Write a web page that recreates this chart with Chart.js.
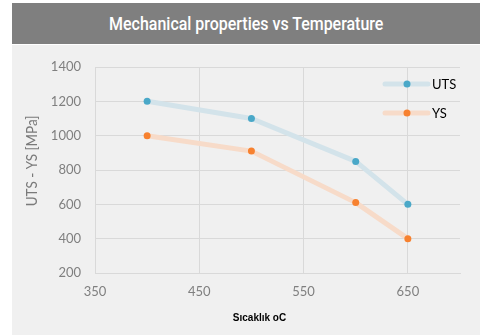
<!DOCTYPE html>
<html>
<head>
<meta charset="utf-8">
<script src="https://cdn.jsdelivr.net/npm/chart.js@4/dist/chart.umd.min.js"></script>
<style>
  html, body { margin: 0; padding: 0; background: #ffffff; }
  body { width: 480px; height: 335px; position: relative; overflow: hidden; }
  #titleBar {
    position: absolute; left: 12px; top: 3px; width: 468px; height: 41px;
    background: #7f7f7f; color: #ffffff;
    font-family: "Roboto", "Liberation Sans", sans-serif; font-weight: 500;
    font-size: 19px; line-height: 41px; text-align: center;
  }
  #titleBar span { display: inline-block; transform: scaleX(0.84); transform-origin: 50% 50%; }
  #wrap { position: absolute; left: 12px; top: 45px; width: 468px; height: 290px; background: #f0f0f0; }
  canvas { display: block; }
</style>
</head>
<body>
<div id="titleBar"><span>Mechanical properties vs Temperature</span></div>
<div id="wrap"><canvas id="c" width="468" height="290"></canvas></div>
<script>
// Temperature (°C) and strength values (MPa)
const temperatures = [400, 500, 600, 650];
const utsValues = [1200, 1100, 850, 600];
const ysValues = [1000, 910, 610, 400];
const xTickValues = [350, 450, 550, 650];
const seriesNames = ['UTS', 'YS'];

const GRID = '#d9d9d9';
const TICK = '#7f7f7f';

const toPoints = (xs, ys) => xs.map((x, i) => ({ x: x, y: ys[i] }));

const series = [
  { label: seriesNames[0], data: toPoints(temperatures, utsValues), line: '#d3e3ea', point: '#4aa8c8' },
  { label: seriesNames[1], data: toPoints(temperatures, ysValues), line: '#f7dbc9', point: '#f7812f' }
];

// Axis titles drawn on the canvas
const axisTitles = {
  id: 'axisTitles',
  afterDraw(chart) {
    const ctx = chart.ctx;
    ctx.save();
    ctx.fillStyle = '#7a7a7a';
    ctx.font = '16px Lato, sans-serif';
    ctx.textAlign = 'center';
    ctx.textBaseline = 'middle';
    ctx.translate(20, 116);
    ctx.rotate(-Math.PI / 2);
    ctx.scale(0.84, 1);
    ctx.fillText('UTS - YS [MPa]', 0, 0);
    ctx.restore();

    ctx.save();
    ctx.fillStyle = '#000000';
    ctx.font = 'bold 10px "Liberation Sans", Arial, sans-serif';
    ctx.textAlign = 'center';
    ctx.textBaseline = 'middle';
    ctx.fillText('Sıcaklık oC', 247.5, 273);
    ctx.restore();
  }
};

// Legend inside the plot, top-right
const insideLegend = {
  id: 'insideLegend',
  afterDatasetsDraw(chart) {
    const ctx = chart.ctx;
    const x0 = 373, x1 = 416, mx = 395, tx = 420;
    const rows = [39, 68];
    chart.data.datasets.forEach((ds, i) => {
      const y = rows[i];
      ctx.save();
      ctx.strokeStyle = ds.borderColor;
      ctx.lineWidth = 5;
      ctx.lineCap = 'round';
      ctx.beginPath();
      ctx.moveTo(x0, y);
      ctx.lineTo(x1, y);
      ctx.stroke();
      ctx.fillStyle = ds.pointBackgroundColor;
      ctx.beginPath();
      ctx.arc(mx, y, 3.5, 0, Math.PI * 2);
      ctx.fill();
      ctx.fillStyle = '#000000';
      ctx.font = '13px Lato, sans-serif';
      ctx.textAlign = 'left';
      ctx.textBaseline = 'middle';
      ctx.fillText(ds.label, tx, y + 1);
      ctx.restore();
    });
  }
};

new Chart(document.getElementById('c'), {
  type: 'scatter',
  data: {
    datasets: series.map(s => ({
      label: s.label,
      data: s.data,
      showLine: true,
      borderColor: s.line,
      borderWidth: 5,
      borderCapStyle: 'round',
      borderJoinStyle: 'round',
      pointBackgroundColor: s.point,
      pointBorderColor: s.point,
      pointBorderWidth: 0,
      pointRadius: 3.5,
      tension: 0
    }))
  },
  options: {
    responsive: false,
    animation: false,
    devicePixelRatio: 1,
    layout: { padding: { left: 0, top: 22, right: 20, bottom: 0 } },
    plugins: {
      legend: { display: false },
      title: { display: false },
      tooltip: { enabled: false }
    },
    scales: {
      x: {
        type: 'linear',
        min: 350,
        max: 700,
        afterBuildTicks(scale) { scale.ticks = xTickValues.map(v => ({ value: v })); },
        afterFit(scale) { scale.height = 62; },
        grid: { color: GRID, lineWidth: 1, drawTicks: false },
        border: { color: GRID, width: 1 },
        ticks: {
          color: TICK,
          font: { family: 'Lato', size: 13 },
          padding: 11,
          maxRotation: 0,
          callback: v => String(v)
        }
      },
      y: {
        min: 200,
        max: 1400,
        afterFit(scale) { scale.width = 83; },
        grid: { color: GRID, lineWidth: 1, drawTicks: false },
        border: { color: GRID, width: 1 },
        ticks: {
          stepSize: 200,
          color: TICK,
          font: { family: 'Lato', size: 13 },
          padding: 14,
          callback: v => String(v)
        }
      }
    }
  },
  plugins: [axisTitles, insideLegend]
});
</script>
</body>
</html>
